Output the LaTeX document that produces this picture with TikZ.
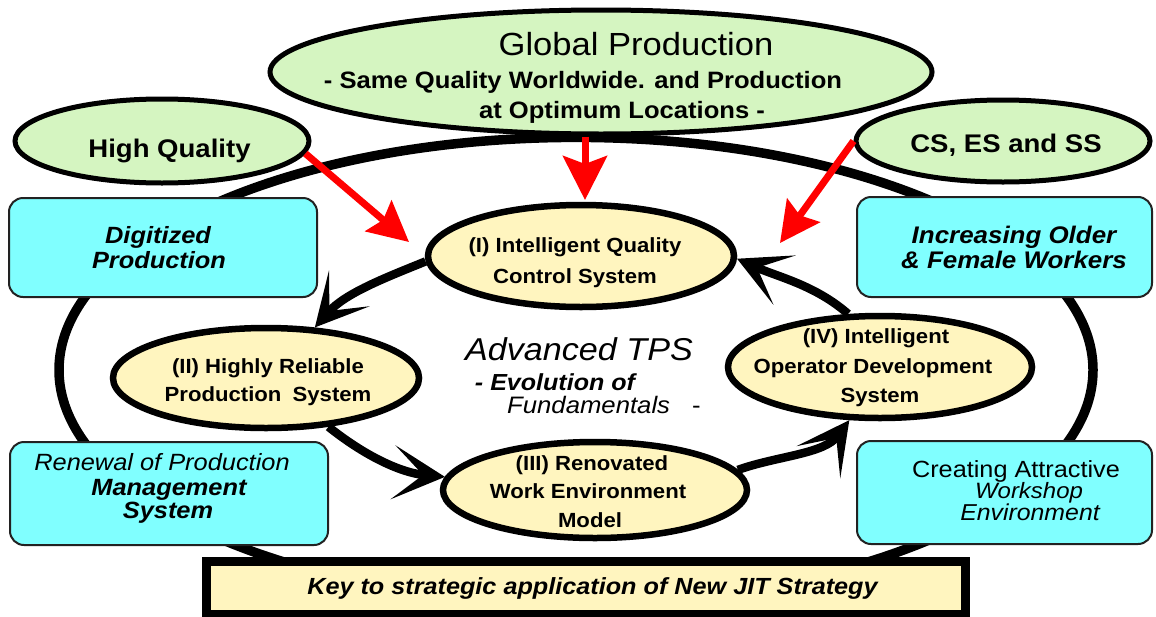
\documentclass[tikz,border=0pt]{standalone}
\usepackage{fontspec}
\setmainfont{Liberation Sans}[FakeStretch=1.08]
\usetikzlibrary{shapes.geometric,arrows.meta}
\definecolor{lgreen}{HTML}{D5F5C1}
\definecolor{lyellow}{HTML}{FFF5BF}
\definecolor{lcyan}{HTML}{80FFFF}
\definecolor{boxline}{HTML}{222222}
\newcommand{\myfs}[1]{\fontsize{#1}{#1}\selectfont}
\tikzset{
 txt/.style={inner sep=0pt, anchor=base},
 goal/.style={ellipse, draw=black, line width=5pt, fill=lgreen, inner sep=0pt},
 stage/.style={ellipse, draw=black, line width=6.5pt, fill=lyellow, inner sep=0pt},
 factor/.style={draw=boxline, line width=2pt, fill=lcyan, rounded corners=14pt, inner sep=0pt},
 cyc/.style={line width=8.5pt, -{Stealth[length=52pt,width=54pt,inset=30pt]}},
 redarr/.style={red, line width=7pt, -{Stealth[length=40pt,width=40pt,inset=6pt]}},
}
\begin{document}
\begin{tikzpicture}[x=1pt,y=-1pt]
\useasboundingbox (0,0) rectangle (1156,616);
\fill[white] (0,0) rectangle (1156,616);
% outer ring
\draw[line width=9.5pt] (576,370) ellipse [x radius=517, y radius=232.6];
% goal ellipses
\node[goal, minimum width=662, minimum height=124] (G) at (601,72) {};
\node[goal, minimum width=294, minimum height=84] (HQ) at (162,141) {};
\node[goal, minimum width=294, minimum height=82] (CS) at (1003,141) {};
% factor boxes
\node[factor, minimum width=308, minimum height=99] (DP) at (163,247.5) {};
\node[factor, minimum width=295, minimum height=100] (IO) at (1004.5,247) {};
\node[factor, minimum width=318, minimum height=103] (RP) at (169,493.5) {};
\node[factor, minimum width=295, minimum height=103] (CA) at (1004.5,492.5) {};
% key box
\node[draw=black, line width=9pt, fill=lyellow, minimum width=758.5, minimum height=53, inner sep=0pt] (KEY) at (585.75,587.5) {};
% stages
\node[stage, minimum width=306, minimum height=102] (S1) at (581,256) {};
\node[stage, minimum width=306, minimum height=100] (S2) at (266,378) {};
\node[stage, minimum width=304, minimum height=96] (S3) at (595,490) {};
\node[stage, minimum width=304, minimum height=102] (S4) at (880,367) {};
% cycle arrows
\draw[cyc] (S1.182) .. controls +(-42,17) and +(30,-34) .. (S2.46);
\draw[cyc] (S2.-38) .. controls +(35,28) and +(-45,-4) .. (S3.175);
\draw[cyc] (S3.8) .. controls +(39,-14) and +(-25,34) .. (S4.240);
\draw[cyc] (S4.121) .. controls +(-33,-29) and +(40,18) .. (S1.-1);
% texts
\node[txt] (Gt1) at (636,55) {\myfs{32}Global Production};
\node[txt] (Gt2) at (583,88) {\myfs{23.7}\bfseries - Same Quality Worldwide. and Production};
\node[txt] (Gt3) at (622,118) {\myfs{23.7}\bfseries at Optimum Locations -};
\node[txt] (HQt) at (169.5,157) {\myfs{25.5}\bfseries High Quality};
\node[txt] (CSt) at (1006,152) {\myfs{25.5}\bfseries CS, ES and SS};
\node[txt] (DPt1) at (158,243) {\myfs{23.5}\bfseries\itshape Digitized};
\node[txt] (DPt2) at (159,268) {\myfs{23.5}\bfseries\itshape Production};
\node[txt] (IOt1) at (1014,243) {\myfs{24}\bfseries\itshape Increasing Older};
\node[txt] (IOt2) at (1014,268) {\myfs{24}\bfseries\itshape \& Female Workers};
\node[txt] (RPt1) at (162,470) {\myfs{23.5}\itshape Renewal of Production};
\node[txt] (RPt2) at (169,495) {\myfs{23.5}\bfseries\itshape Management};
\node[txt] (RPt3) at (168,518) {\myfs{23.5}\bfseries\itshape System};
\node[txt] (CAt1) at (1016,477) {\myfs{23.4}Creating Attractive};
\node[txt] (CAt2) at (1029,498) {\myfs{22.2}\itshape Workshop};
\node[txt] (CAt3) at (1030,520) {\myfs{23}\itshape Environment};
\node[txt] (S1t1) at (575,252) {\myfs{20.5}\bfseries (I) Intelligent Quality};
\node[txt] (S1t2) at (575,283) {\myfs{20.5}\bfseries Control System};
\node[txt] (S2t1) at (268,373) {\myfs{20.5}\bfseries (II) Highly Reliable};
\node[txt] (S2t2) at (268,401) {\myfs{20.5}\bfseries Production\hspace{5pt} System};
\node[txt] (S3t1) at (592,470) {\myfs{20.5}\bfseries (III) Renovated};
\node[txt] (S3t2) at (588,498) {\myfs{20.5}\bfseries Work Environment};
\node[txt] (S3t3) at (590,527) {\myfs{20.5}\bfseries Model};
\node[txt] (S4t1) at (876,343) {\myfs{20.5}\bfseries (IV) Intelligent};
\node[txt] (S4t2) at (873,373) {\myfs{20.5}\bfseries Operator Development};
\node[txt] (S4t3) at (880,402) {\myfs{20.5}\bfseries System};
\node[txt] (Ct1) at (579,360) {\myfs{31.6}\itshape Advanced TPS};
\node[txt] (Ct2) at (555,390) {\myfs{23.2}\bfseries\itshape - Evolution of};
\node[txt, anchor=base west] (Ct3) at (507,413) {\myfs{23.8}\textit{Fundamentals}\hspace{22pt}-};
\node[txt] (KEYt) at (592.5,594) {\myfs{23.35}\bfseries\itshape Key to strategic application of New JIT Strategy};
% red arrows
\coordinate (r1) at (409,242);
\coordinate (r2) at (585,200);
\coordinate (r3) at (780,243);
\draw[redarr] (HQ.-5) -- (r1);
\draw[redarr, -{Stealth[length=44pt,width=44pt,inset=8pt]}] (r2 |- G.south) -- (r2);
\draw[redarr] (CS.west) -- (r3);
\end{tikzpicture}
\end{document}
